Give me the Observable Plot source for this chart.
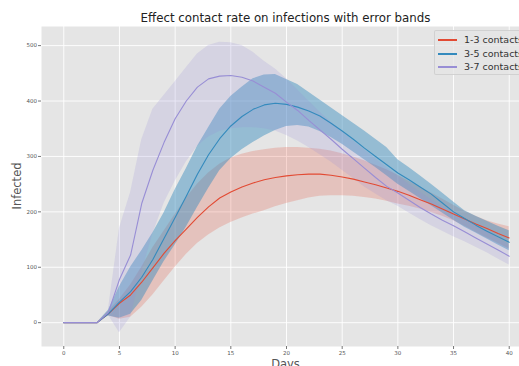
<!DOCTYPE html>
<html>
<head>
<meta charset="utf-8">
<script src="https://cdn.jsdelivr.net/npm/d3@7"></script>
<script src="https://cdn.jsdelivr.net/npm/@observablehq/plot@0.6"></script>
<style>
  html, body { margin: 0; padding: 0; background: #fff; overflow: hidden; }
  #wrap { position: relative; width: 519px; height: 366px; overflow: hidden; font-family: "DejaVu Sans", sans-serif; }
  #chart { position: absolute; left: 0; top: 0; width: 560px; height: 380px; }
  .title { position: absolute; left: 0; top: 12.7px; width: 571px; text-align: center; font-size: 11.8px; line-height: 1; color: #222; white-space: nowrap; }
  .ylab { position: absolute; left: 18px; top: 186px; transform: translate(-50%, -50%) rotate(-90deg); font-size: 11.5px; line-height: 1; color: #555; white-space: nowrap; }
  .xlab { position: absolute; left: 0; top: 359px; width: 571px; text-align: center; font-size: 11.5px; line-height: 1; color: #555; white-space: nowrap; }
  .legend { position: absolute; left: 434px; top: 30px; width: 110px; height: 43px; background: rgba(229,229,229,0.8); border: 1px solid rgba(204,204,204,0.8); border-radius: 2px; }
  .legend .row { position: absolute; left: 3px; height: 10px; font-size: 9.5px; line-height: 10px; color: #333; white-space: nowrap; }
  .legend .sw { position: absolute; left: 0; top: 4.5px; width: 19px; height: 1.5px; }
  .legend .tx { position: absolute; left: 26px; top: 0; }
</style>
</head>
<body>
<div id="wrap">
  <div id="chart"></div>
  <div class="title">Effect contact rate on infections with error bands</div>
  <div class="ylab">Infected</div>
  <div class="xlab">Days</div>
  <div class="legend" id="legend"></div>
</div>
<script>
// Simulation days
const days = [0, 1, 2, 3, 4, 5, 6, 7, 8, 9, 10, 11, 12, 13, 14, 15, 16, 17, 18, 19, 20,
              21, 22, 23, 24, 25, 26, 27, 28, 29, 30, 31, 32, 33, 34, 35, 36, 37, 38, 39, 40];

// 1-3 contacts: mean infected and error band
const lowMean = [0, 0, 0, 0, 16, 35, 50, 73, 99, 125, 148, 169, 190, 209, 225, 236, 245, 252, 258, 262, 265,
                 267, 268, 268, 266, 263, 259, 254, 249, 243, 237, 230, 222, 214, 205, 196, 187, 178, 170, 161, 153];
const lowLower = [0, 0, 0, 0, 13, 6, 10, 28, 50, 75, 100, 123, 143, 158, 171, 181, 189, 196, 202, 209, 215,
                  220, 225, 228, 229, 229, 228, 226, 223, 219, 214, 210, 205, 199, 192, 184, 174, 163, 153, 143, 133];
const lowUpper = [0, 0, 0, 0, 20, 42, 68, 100, 135, 165, 195, 225, 250, 270, 286, 297, 304, 309, 312, 315, 316,
                  316, 315, 313, 310, 305, 299, 292, 284, 276, 266, 255, 245, 234, 223, 212, 201, 192, 184, 178, 173];

// 3-5 contacts
const midMean = [0, 0, 0, 0, 16, 37, 56, 82, 114, 152, 190, 228, 268, 303, 332, 355, 372, 385, 393, 396, 394,
                 389, 382, 373, 360, 346, 331, 315, 300, 285, 270, 258, 245, 232, 216, 200, 188, 176, 165, 155, 145];
const midLower = [0, 0, 0, 0, 12, 8, 15, 40, 75, 110, 140, 172, 208, 242, 274, 296, 312, 325, 337, 347, 354,
                  356, 353, 345, 334, 322, 308, 294, 280, 265, 250, 237, 224, 211, 198, 185, 172, 162, 151, 140, 130];
const midUpper = [0, 0, 0, 0, 22, 65, 100, 130, 162, 198, 240, 278, 318, 352, 385, 408, 425, 440, 447, 448, 439,
                  430, 416, 402, 388, 374, 360, 346, 331, 316, 294, 280, 265, 250, 234, 218, 202, 192, 183, 174, 166];

// 3-7 contacts
const highMean = [0, 0, 0, 0, 18, 78, 122, 215, 275, 325, 368, 400, 425, 440, 445, 446, 443, 436, 425, 414, 398,
                  383, 365, 348, 331, 313, 296, 279, 262, 246, 234, 221, 208, 196, 185, 175, 164, 153, 142, 131, 120];
const highLower = [0, 0, 0, 0, 14, -18, 10, 90, 160, 215, 255, 290, 318, 335, 345, 350, 352, 352, 350, 346, 338,
                   328, 316, 303, 290, 275, 260, 245, 232, 220, 210, 198, 186, 175, 165, 155, 146, 136, 126, 115, 104];
const highUpper = [0, 0, 0, 0, 22, 170, 235, 330, 385, 410, 435, 460, 485, 500, 506, 505, 500, 488, 472, 458, 440,
                   420, 400, 380, 362, 345, 328, 312, 296, 280, 265, 250, 236, 222, 210, 198, 186, 175, 164, 152, 140];

const seriesNames = ["1-3 contacts", "3-5 contacts", "3-7 contacts"];
const xTicks = [0, 5, 10, 15, 20, 25, 30, 35, 40];
const yTicks = [0, 100, 200, 300, 400, 500];

const styles = [
  {color: "#E24A33", band: 0.22},
  {color: "#348ABD", band: 0.45},
  {color: "#988ED5", band: 0.2}
];
const columns = [
  [lowMean, lowLower, lowUpper],
  [midMean, midLower, midUpper],
  [highMean, highLower, highUpper]
];

const tables = columns.map(([mean, lower, upper], k) =>
  days.map((day, i) => ({day, name: seriesNames[k], mean: mean[i], lower: lower[i], upper: upper[i]}))
);

const chart = Plot.plot({
  width: 560,
  height: 380,
  marginLeft: 41,
  marginRight: 29,
  marginTop: 26,
  marginBottom: 34,
  style: {background: "transparent", fontFamily: "DejaVu Sans, sans-serif", fontSize: "5.5px", color: "#555", maxWidth: "none"},
  x: {domain: [-2, 42], label: null},
  y: {domain: [-43, 534.5], label: null},
  marks: [
    Plot.frame({fill: "#E5E5E5", stroke: null}),
    Plot.gridX(xTicks, {stroke: "#fff", strokeOpacity: 1, strokeWidth: 0.9}),
    Plot.gridY(yTicks, {stroke: "#fff", strokeOpacity: 1, strokeWidth: 0.9}),
    ...tables.map((t, k) => Plot.areaY(t, {x: "day", y1: "lower", y2: "upper", fill: styles[k].color, fillOpacity: styles[k].band})),
    ...tables.map((t, k) => Plot.line(t, {x: "day", y: "mean", stroke: styles[k].color, strokeWidth: 1.1})),
    Plot.axisX(xTicks, {tickSize: 3, tickPadding: 1.5, label: null, stroke: "#777"}),
    Plot.axisY(yTicks, {tickSize: 3, tickPadding: 1.5, label: null, stroke: "#777"})
  ]
});
chart.style.maxWidth = "none";
document.getElementById("chart").appendChild(chart);

// Legend rows
const legend = document.getElementById("legend");
const rowTops = [3.5, 17.5, 30.5];
seriesNames.forEach((name, k) => {
  const row = document.createElement("div");
  row.className = "row";
  row.style.top = rowTops[k] + "px";
  const sw = document.createElement("div");
  sw.className = "sw";
  sw.style.background = styles[k].color;
  const tx = document.createElement("div");
  tx.className = "tx";
  tx.textContent = name;
  row.appendChild(sw);
  row.appendChild(tx);
  legend.appendChild(row);
});
</script>
</body>
</html>
